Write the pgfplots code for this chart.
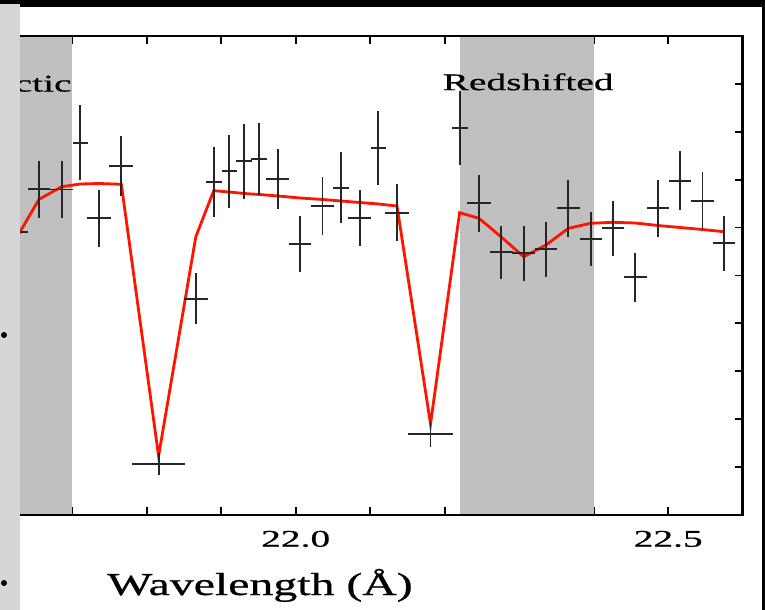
\documentclass[border=0pt]{standalone}
\usepackage{pgfplots}
\pgfplotsset{compat=1.18}
\usepackage{pgfplotstable}
\usepackage{fontspec}
\setmainfont{Liberation Serif}
\newfontfamily\widefont[FakeStretch=1.65,FakeBold=0.6]{Liberation Serif}
\newfontfamily\labelfont[FakeStretch=1.5,FakeBold=0.8]{Liberation Serif}
\definecolor{bandgray}{RGB}{192,192,192}
\definecolor{modelred}{RGB}{255,20,0}
\definecolor{stripgray}{RGB}{214,214,214}

\pgfplotstableread{
x y ex ey
21.626 5.908 0.0148 0.600
21.6555 6.800 0.0148 0.595
21.686 6.795 0.0155 0.598
21.711 7.772 0.0103 0.783
21.736 6.194 0.0155 0.591
21.766 7.286 0.0159 0.620
21.816 1.065 0.0354 0.237
21.866 4.516 0.0157 0.528
21.890 6.952 0.0108 0.731
21.911 7.175 0.0105 0.765
21.931 7.384 0.0108 0.779
21.951 7.432 0.0105 0.755
21.976 7.008 0.0157 0.623
22.006 5.664 0.0152 0.582
22.036 6.451 0.0152 0.603
22.061 6.833 0.0108 0.737
22.086 6.207 0.0155 0.585
22.111 7.668 0.0105 0.772
22.136 6.311 0.0157 0.591
22.181 1.697 0.0302 0.275
22.220 8.073 0.0108 0.772
22.246 6.507 0.0157 0.591
22.276 5.484 0.0151 0.557
22.306 5.463 0.0152 0.574
22.336 5.553 0.0151 0.574
22.366 6.403 0.0157 0.591
22.396 5.762 0.0148 0.574
22.426 5.985 0.0151 0.578
22.456 4.962 0.0152 0.505
22.486 6.403 0.0151 0.599
22.516 6.979 0.0146 0.620
22.546 6.562 0.0157 0.601
22.575 5.672 0.0151 0.574
}\spec

\pgfplotstableread{
x y
21.626 5.804
21.6555 6.591
21.686 6.854
21.711 6.910
21.736 6.921
21.766 6.904
21.816 1.232
21.866 5.810
21.890 6.770
21.911 6.743
21.931 6.712
21.951 6.691
21.976 6.660
22.006 6.618
22.036 6.587
22.061 6.555
22.086 6.524
22.111 6.493
22.136 6.451
22.181 1.900
22.220 6.311
22.246 6.194
22.276 5.804
22.306 5.392
22.336 5.637
22.366 5.985
22.396 6.090
22.426 6.111
22.456 6.096
22.486 6.044
22.516 6.002
22.546 5.960
22.575 5.914
}\model

\begin{document}
\begin{tikzpicture}
\fill[black] (-20bp,-95bp) rectangle (745bp,515bp);
\useasboundingbox (-20bp,-95bp) rectangle (745bp,515bp);
\fill[white] (0bp,-95bp) rectangle (742bp,508bp);
\begin{axis}[
  at={(0,0)}, anchor=south west,
  scale only axis, width=722.7bp, height=479bp,
  xmin=21.63, xmax=22.6, ymin=0, ymax=10,
  axis line style={draw=none},
  xtick={22.0,22.5}, xticklabels={22.0,22.5},
  minor xtick={21.7,21.8,21.9,22.1,22.2,22.3,22.4},
  xtick pos=both, ytick pos=right,
  ytick={1,2,3,4,5,6,7,8,9}, yticklabels={},
  tick align=inside,
  major tick length=8bp, minor tick length=8bp,
  tick style={black, line width=1.8bp},
  xticklabel style={font=\widefont\fontsize{24}{28}\selectfont, anchor=base, yshift=-31.7bp, inner sep=0pt},
]
\fill[bandgray] (axis cs:21.5,0) rectangle (axis cs:21.6999,10);
\fill[bandgray] (axis cs:22.2200,0) rectangle (axis cs:22.4000,10);
\addplot[modelred, line width=2.8bp, mark=none] table[x=x,y=y] {\model};
\addplot[draw=none, mark=none,
  error bars/.cd, x dir=both, x explicit, y dir=both, y explicit, error mark=none,
  error bar style={draw=black!85, line width=1.9bp}]
  table[x=x, y=y, x error=ex, y error=ey] {\spec};
\node[anchor=base east, inner sep=0pt, font=\widefont\fontsize{24}{28}\selectfont] at (axis cs:21.6995,8.84) {ctic};
\node[anchor=base west, inner sep=0pt, font=\widefont\fontsize{24}{28}\selectfont] at (axis cs:22.197,8.87) {Redshifted};
\end{axis}
\draw[line width=2.5bp] (current axis.south west) -- (current axis.south east) -- (current axis.north east) -- (current axis.north west);
\fill[stripgray] (-20bp,-95bp) rectangle (0bp,511bp);
\fill[black] (-16bp,180bp) circle (3bp);
\fill[black] (-16bp,-68bp) circle (3bp);
\node[anchor=base, inner sep=0pt, font=\labelfont\fontsize{32}{36}\selectfont] at (240bp,-80bp) {Wavelength (Å)};
\end{tikzpicture}
\end{document}
